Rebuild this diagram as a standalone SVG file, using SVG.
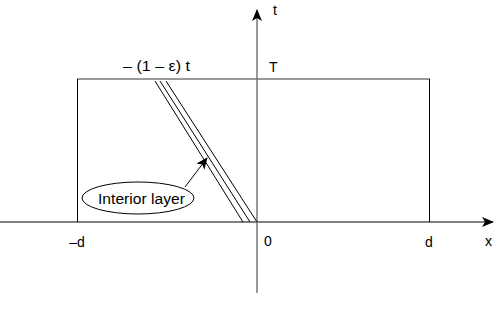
<svg xmlns="http://www.w3.org/2000/svg" width="494" height="322" viewBox="0 0 494 322">
<style>
text{font-family:"Liberation Sans",Arial,sans-serif;font-size:13px;fill:#000}
.ln{stroke:#000;stroke-width:1;fill:none}
.g{stroke:#777;stroke-width:1.5;fill:none}
</style>
<defs>
<marker id="ah" markerWidth="12" markerHeight="10" refX="11" refY="5" orient="auto" markerUnits="userSpaceOnUse">
<path d="M0,0 L12,5 L0,10 L3,5 Z" fill="#000"/>
</marker>
</defs>
<rect width="494" height="322" fill="#fff"/>
<g id="connectors">
<line class="g" x1="77" y1="79" x2="430" y2="79"/>
<line class="ln" x1="77.5" y1="79" x2="77.5" y2="222"/>
<line class="ln" x1="429.5" y1="79" x2="429.5" y2="222"/>
<line class="ln" x1="0" y1="222" x2="493" y2="222" stroke="#333" marker-end="url(#ah)"/>
<line class="g" x1="257" y1="293" x2="257" y2="10" marker-end="url(#ah)"/>
<line class="ln" x1="155" y1="81" x2="243" y2="222"/>
<line class="ln" x1="160" y1="81" x2="250" y2="222"/>
<line class="ln" x1="166" y1="81" x2="257" y2="222"/>
<line class="ln" x1="185" y1="187" x2="207" y2="158" marker-end="url(#ah)"/>
</g>
<g id="interior-layer">
<ellipse class="ln" cx="138" cy="198" rx="56" ry="16"/>
<text x="98" y="204" style="font-size:15.5px" textLength="87" lengthAdjust="spacingAndGlyphs">Interior layer</text>
</g>
<g id="labels">
<text x="123" y="71" style="font-size:14px" textLength="67" lengthAdjust="spacingAndGlyphs">– (1 – ε) t</text>
<text x="269" y="72" style="font-size:14px">T</text>
<text x="273" y="15" style="font-size:14px">t</text>
<text x="77" y="247" text-anchor="middle" style="font-size:14px">–d</text>
<text x="268" y="246" text-anchor="middle" style="font-size:14px">0</text>
<text x="429" y="247" text-anchor="middle" style="font-size:14px">d</text>
<text x="485" y="246" style="font-size:14px">x</text>
</g>
</svg>
